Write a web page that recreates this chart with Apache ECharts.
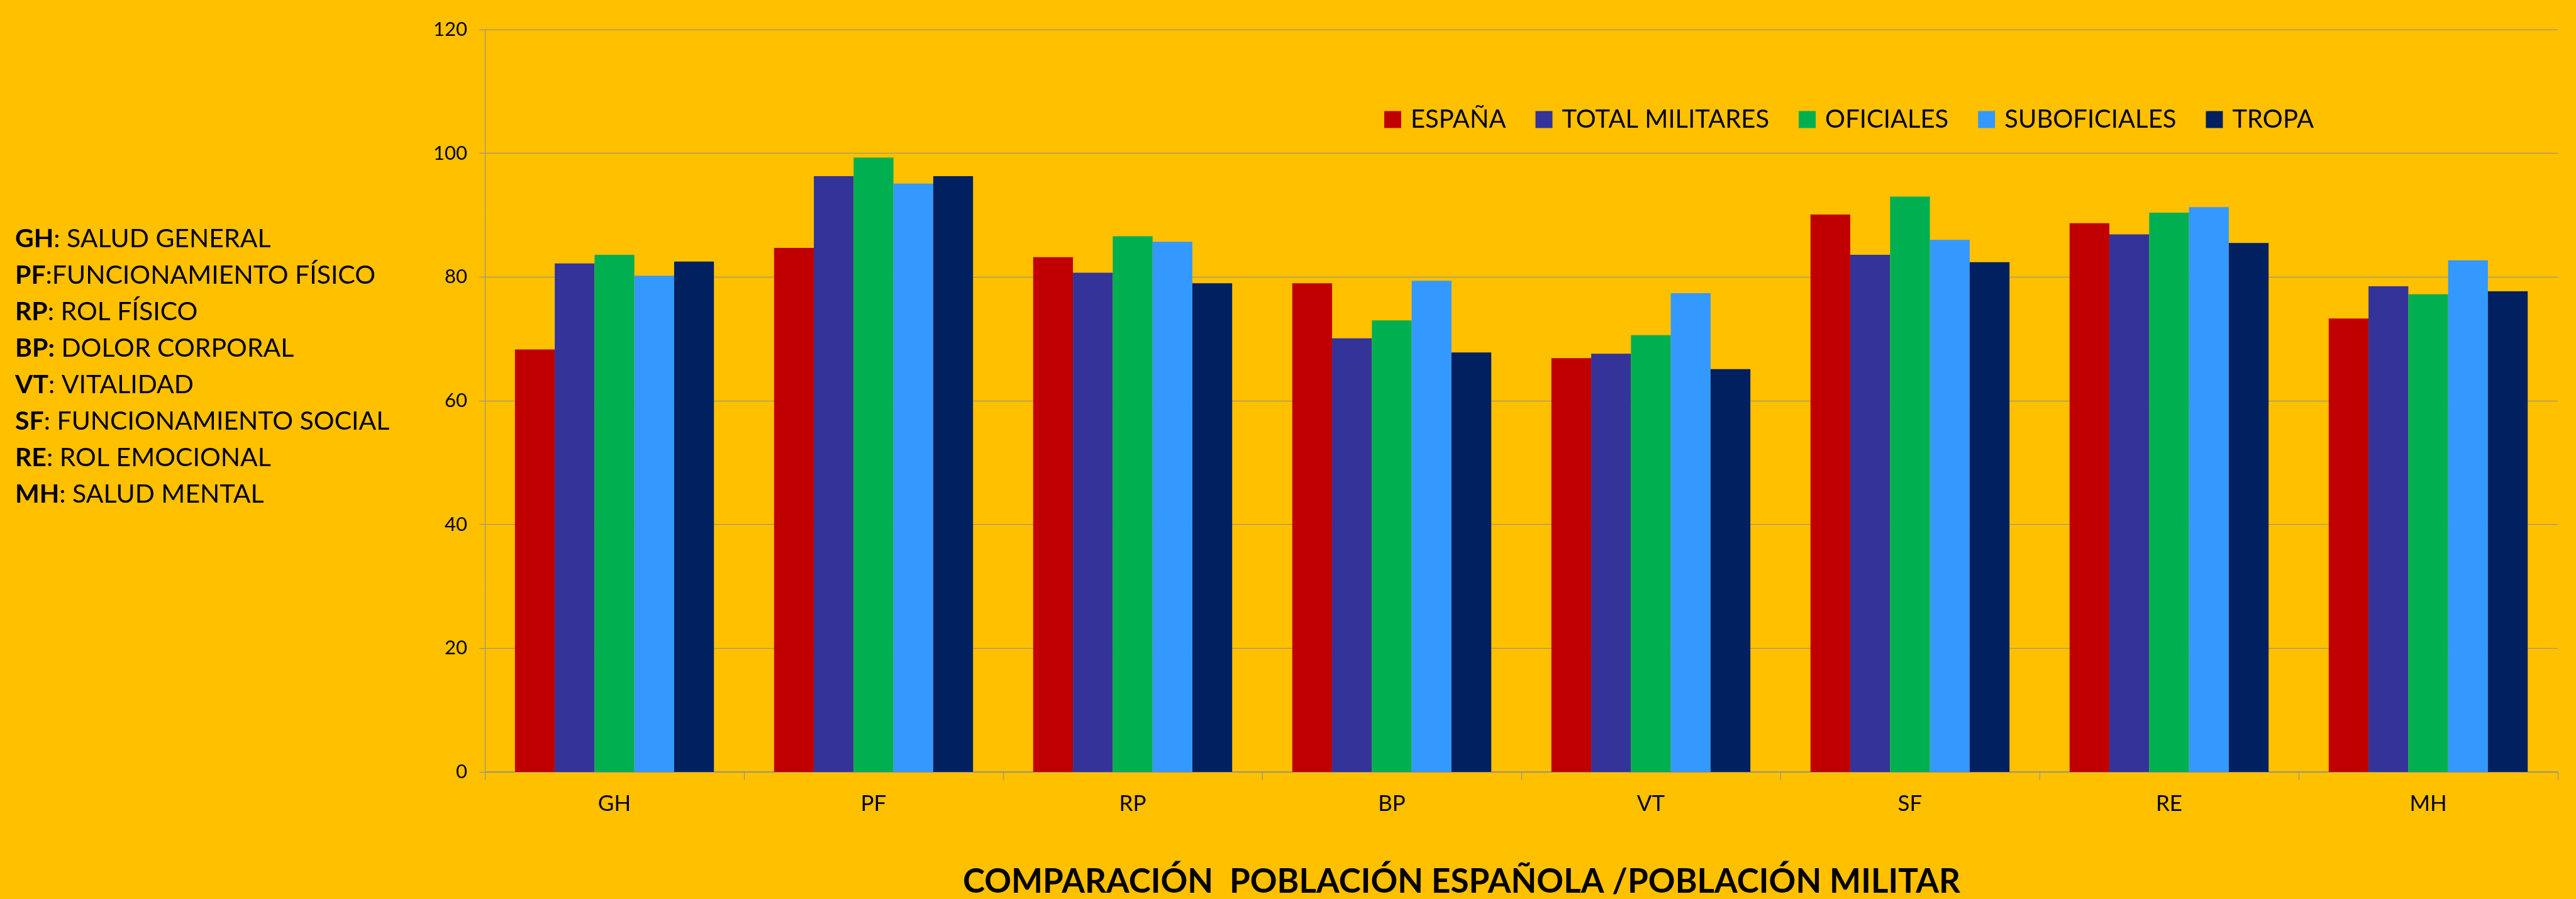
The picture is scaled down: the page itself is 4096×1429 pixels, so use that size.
<!DOCTYPE html>
<html>
<head>
<meta charset="utf-8">
<script src="https://cdn.jsdelivr.net/npm/echarts@6/dist/echarts.min.js"></script>
<style>
html,body{margin:0;padding:0;background:#FFC000;}
#c{width:4096px;height:1429px;}
</style>
</head>
<body>
<div id="c"></div>
<script>
var categories = ['GH','PF','RP','BP','VT','SF','RE','MH'];
var seriesNames = ['ESPAÑA','TOTAL MILITARES','OFICIALES','SUBOFICIALES','TROPA'];
var espana         = [68.3, 84.7, 83.2, 79.0, 66.9, 90.1, 88.7, 73.3];
var totalMilitares = [82.2, 96.3, 80.7, 70.1, 67.6, 83.6, 86.9, 78.5];
var oficiales      = [83.6, 99.3, 86.6, 73.0, 70.6, 93.0, 90.4, 77.2];
var suboficiales   = [80.2, 95.1, 85.7, 79.4, 77.4, 86.0, 91.3, 82.7];
var tropa          = [82.5, 96.3, 79.0, 67.8, 65.1, 82.4, 85.5, 77.7];
var colors = ['#C00000','#333399','#00B050','#3399FF','#002060'];
var glossary = [
  ['GH', ': SALUD GENERAL'],
  ['PF', ':FUNCIONAMIENTO FÍSICO'],
  ['RP', ': ROL FÍSICO'],
  ['BP:', ' DOLOR CORPORAL'],
  ['VT', ': VITALIDAD'],
  ['SF', ': FUNCIONAMIENTO SOCIAL'],
  ['RE', ': ROL EMOCIONAL'],
  ['MH', ': SALUD MENTAL']
];
var chartTitle = 'COMPARACIÓN  POBLACIÓN ESPAÑOLA /POBLACIÓN MILITAR';

var values = [espana, totalMilitares, oficiales, suboficiales, tropa];
var chart = echarts.init(document.getElementById('c'), null, {renderer:'canvas'});
var glossaryText = glossary.map(function(g){ return '{b|' + g[0] + '}{n|' + g[1] + '}'; }).join('\n');

var option = {
  backgroundColor: '#FFC000',
  animation: false,
  color: colors,
  grid: { left: 771, right: 29, top: 47, bottom: 202, containLabel: false },
  legend: {
    left: 2201, top: 170, padding: 0,
    icon: 'rect', itemWidth: 27, itemHeight: 27, itemGap: 47,
    textStyle: { fontFamily: 'Lato', fontSize: 40, color: '#000', padding: [0,0,0,10] },
    data: seriesNames
  },
  xAxis: {
    type: 'category', data: categories,
    axisLine: { lineStyle: { color: '#8c8c8c', width: 1.5 } },
    axisTick: { show: true, length: 13, lineStyle: { color: '#8c8c8c', width: 1 } },
    axisLabel: { fontFamily: 'Lato', fontSize: 35, color: '#000', margin: 33 }
  },
  yAxis: {
    type: 'value', min: 0, max: 120, interval: 20,
    axisLine: { show: true, lineStyle: { color: '#8c8c8c', width: 1 } },
    axisTick: { show: true, length: 9, lineStyle: { color: '#8c8c8c', width: 1 } },
    axisLabel: { fontFamily: 'Lato', fontSize: 31, color: '#000', margin: 28 },
    splitLine: { show: true, lineStyle: { color: '#8c8c8c', width: 1 } }
  },
  graphic: [
    {
      type: 'text', x: 24, y: 351,
      style: {
        text: glossaryText,
        verticalAlign: 'top',
        lineHeight: 58,
        rich: {
          b: { fontFamily: 'Lato', fontWeight: 'bold', fontSize: 41, fill: '#000', lineHeight: 58 },
          n: { fontFamily: 'Lato', fontSize: 41, fill: '#000', lineHeight: 58 }
        }
      }
    },
    {
      type: 'text', x: 2324, y: 1402,
      style: {
        text: chartTitle,
        font: 'bold 53px Lato',
        fill: '#000',
        align: 'center',
        verticalAlign: 'middle'
      }
    }
  ],
  series: seriesNames.map(function(name, i){
    return {
      name: name, type: 'bar', data: values[i],
      barGap: 0, barCategoryGap: '23.2%',
      itemStyle: { color: colors[i] }
    };
  })
};
chart.setOption(option);
</script>
</body>
</html>
